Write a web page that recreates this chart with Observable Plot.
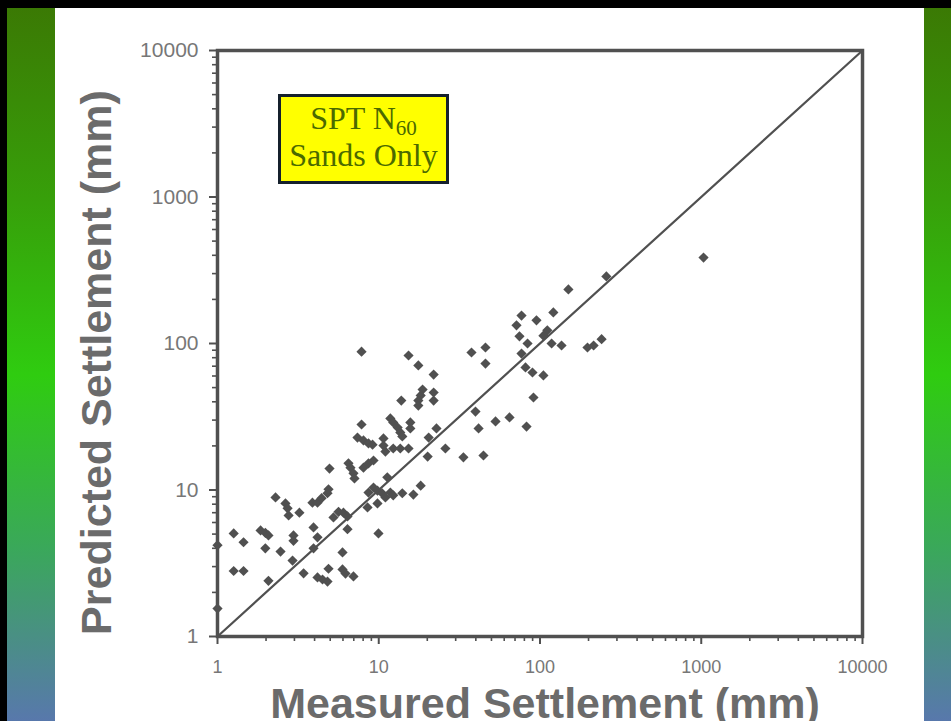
<!DOCTYPE html>
<html>
<head>
<meta charset="utf-8">
<script src="https://cdn.jsdelivr.net/npm/d3@7"></script>
<script src="https://cdn.jsdelivr.net/npm/@observablehq/plot@0.6"></script>
<style>
  html, body { margin: 0; padding: 0; width: 951px; height: 721px; overflow: hidden; background: #fff; }
  #slide { position: relative; width: 951px; height: 721px; background: #fff; overflow: hidden; }
  .band { position: absolute; top: 0; height: 721px;
    background: linear-gradient(to bottom, #3b7804 0%, #37a00a 28%, #2fcc10 52%, #3aa85a 76%, #5878ac 100%); }
  #bandL { left: 0; width: 55px; border-left: 7px solid #000; box-sizing: border-box; }
  #bandR { left: 924px; width: 27px; }
  #topRule { position: absolute; left: 0; top: 0; width: 951px; height: 8px; background: #000; }
  #chart { position: absolute; left: 0; top: 0; }
  #note { position: absolute; left: 278px; top: 94px; width: 171px; height: 90px; box-sizing: border-box;
    background: #ffff00; border: 3px solid #15202c;
    font-family: "Liberation Serif", "Times New Roman", serif; color: #4b6a00;
    font-size: 32px; line-height: 37px; text-align: center; padding-top: 3px; }
  #note .line { display: block; height: 37px; }
  #note sub { font-size: 21px; line-height: 1; vertical-align: -6px; }
</style>
</head>
<body>
<div id="slide">
  <div class="band" id="bandL"></div>
  <div class="band" id="bandR"></div>
  <div id="topRule"></div>
  <div id="chart"></div>
  <div id="note"><span class="line">SPT N<sub>60</sub></span><span class="line">Sands Only</span></div>
</div>
<script>
// Measured vs predicted settlement (mm), SPT N60 method, sands only
const measured = [
  1, 1, 1.26, 1.45, 1.26, 1.45, 1.85, 1.98, 2.07, 1.98,
  2.07, 2.29, 2.64, 2.72, 2.76, 2.46, 2.96, 2.96, 2.92, 3.22,
  3.42, 3.88, 4.17, 4.42, 4.81, 4.88, 3.94, 4.17, 3.94, 4.17,
  4.48, 4.81, 4.88, 4.95, 5.24, 5.63, 6.04, 6.4, 6.4, 5.96,
  5.96, 6.22, 6.49, 6.68, 6.97, 7.07, 6.97, 7.82, 7.82, 7.38,
  8.04, 8.64, 9.15, 8.04, 8.64, 9.28, 8.64, 9.28, 9.82, 10.5,
  11.0, 11.8, 12.3, 8.52, 9.82, 9.96, 11.3, 10.7, 10.7, 11.0,
  12.3, 13.6, 15.3, 11.8, 12.3, 13.1, 13.6, 14.0, 15.7, 15.7,
  14.0, 16.4, 18.2, 13.8, 15.3, 17.6, 21.9, 18.7, 18.2, 17.6,
  17.6, 21.9, 21.9, 20.4, 22.8, 25.9, 20.1, 33.5, 44.6, 37.6,
  45.9, 45.9, 39.8, 41.6, 53.0, 64.7, 82.5, 76.8, 71.5, 74.6,
  83.7, 76.8, 95.1, 111, 105, 118, 136, 81.3, 89.8, 105,
  91.1, 121, 150, 258, 197, 215, 241, 1033
];
const predicted = [
  1.55, 4.2, 5.05, 4.4, 2.8, 2.8, 5.3, 5.1, 4.9, 4.0,
  2.4, 8.9, 8.1, 7.5, 6.7, 3.8, 4.9, 4.5, 3.3, 7.0,
  2.7, 8.2, 8.2, 8.8, 9.5, 10.1, 5.55, 4.75, 4.0, 2.53,
  2.45, 2.37, 2.9, 14.0, 6.5, 7.1, 7.0, 6.6, 5.4, 3.75,
  2.87, 2.69, 15.2, 14.2, 13.0, 12.0, 2.57, 88, 28, 22.8,
  21.8, 20.8, 20.4, 14.2, 15.2, 15.9, 9.6, 10.4, 9.9, 9.5,
  8.9, 9.6, 9.2, 7.6, 8.1, 5.05, 12.2, 22.5, 20.1, 18.3,
  19.2, 19.2, 19.2, 30.8, 28.9, 26.7, 24.7, 23.2, 28.9, 26.3,
  9.5, 9.3, 10.7, 40.8, 82.8, 70.8, 61.4, 48.5, 44.2, 40.8,
  37.7, 46.3, 40.8, 22.8, 26.3, 19.2, 16.9, 16.7, 17.2, 86.8,
  93.9, 73.0, 34.3, 26.3, 29.4, 31.3, 27.1, 155, 133, 112,
  100, 85.4, 144, 123, 113, 100, 96.9, 68.6, 63.4, 60.5,
  42.8, 163, 234, 287, 93.9, 96.9, 107, 386
];

// Axis ticks (log decades) and the 1:1 reference line ends
const decadeTicks = [1, 10, 100, 1000, 10000];
const minorSteps = [2, 3, 4, 5, 6, 7, 8, 9];
const oneToOne = [1, 10000];
const xTitle = "Measured Settlement (mm)";
const yTitle = "Predicted Settlement (mm)";

const minorTicks = decadeTicks.slice(0, -1).flatMap(d => minorSteps.map(k => k * d));
const points = measured.map((m, i) => ({measured: m, predicted: predicted[i]}));

const ink = "#505050";
const labelInk = "#777";
const titleInk = "#6b6b6b";

const chart = Plot.plot({
  width: 951,
  height: 721,
  marginLeft: 217,
  marginRight: 89,
  marginTop: 50,
  marginBottom: 85,
  style: {background: "transparent", fontFamily: "'Liberation Sans', Arial, sans-serif", overflow: "visible"},
  x: {type: "log", domain: [1, 10000], label: null},
  y: {type: "log", domain: [1, 10000], label: null},
  marks: [
    Plot.axisX(minorTicks, {tickSize: 5, stroke: ink, strokeWidth: 1.6, fill: "none", label: null}),
    Plot.axisY(minorTicks, {tickSize: 5, stroke: ink, strokeWidth: 1.6, fill: "none", label: null}),
    Plot.axisX(decadeTicks, {tickSize: 8, tickPadding: 16, stroke: ink, strokeWidth: 2, fill: labelInk,
      fontSize: 18, tickFormat: d => String(d), label: null}),
    Plot.axisY(decadeTicks, {tickSize: 8, tickPadding: 11, stroke: ink, strokeWidth: 2, fill: labelInk,
      fontSize: 21, tickFormat: d => String(d), label: null}),
    Plot.frame({stroke: ink, strokeWidth: 3.5}),
    Plot.line(oneToOne, {x: d => d, y: d => d, stroke: ink, strokeWidth: 2.2}),
    Plot.dot(points, {x: "measured", y: "predicted", symbol: "diamond2", r: 4.6, fill: ink, stroke: "none"}),
    Plot.text([yTitle], {text: d => d, frameAnchor: "left", textAnchor: "middle", rotate: -90, dx: -107, dy: 19,
      lineAnchor: "bottom", fontSize: 43, fontWeight: "bold", fill: titleInk}),
    Plot.text([xTitle], {text: d => d, frameAnchor: "bottom", textAnchor: "middle", dx: 5, dy: 81,
      lineAnchor: "bottom", fontSize: 43, fontWeight: "bold", fill: titleInk})
  ]
});
document.getElementById("chart").appendChild(chart);
</script>
</body>
</html>
